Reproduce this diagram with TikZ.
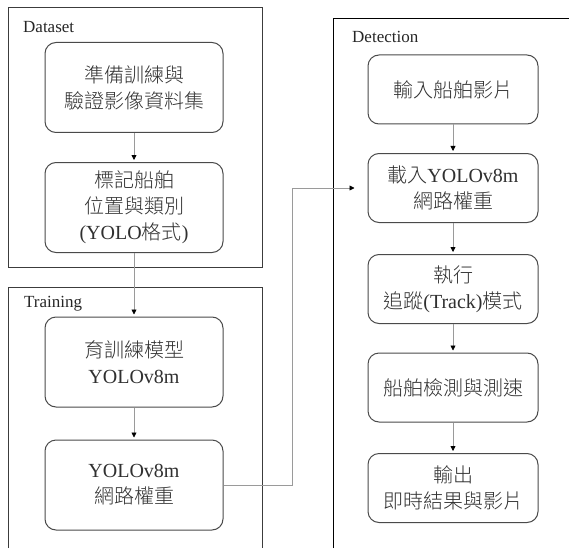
\documentclass[tikz,border=0pt]{standalone}
\usepackage{fontspec}
\setmainfont{Liberation Serif}
\newfontfamily\cjk{Noto Sans CJK TC}[UprightFont=* Light]
\usetikzlibrary{arrows.meta}
\definecolor{linegray}{HTML}{9A9A9A}
\definecolor{framegray}{HTML}{3C3C3C}
\definecolor{boxgray}{HTML}{4A4A4A}
\definecolor{txtgray}{HTML}{303030}
\tikzset{
  stepbox/.style={draw=boxgray, line width=1pt, rounded corners=11pt,
    align=center, text=txtgray, font=\fontsize{20}{26}\selectfont, inner sep=0pt},
  wide/.style={minimum width=178pt, minimum height=90pt},
  narrow/.style={minimum width=170pt, minimum height=69pt},
  frame/.style={draw=framegray, line width=1pt},
  grouplabel/.style={anchor=base west, inner sep=0pt, text=black!85, font=\fontsize{17}{20}\selectfont},
  conn/.style={draw=linegray, line width=0.8pt, -{Triangle[black,length=5pt,width=5pt]}, shorten >=2pt}
}
\begin{document}
\begin{tikzpicture}[x=1pt,y=-1pt]
\useasboundingbox (0,0) rectangle (569,548);

% group frames
\draw[frame] (8,8) rectangle (262,267);
\draw[frame] (8,548) -- (8,287) -- (262,287) -- (262,548);
\draw[frame, draw=black] (333,548) -- (333,19) -- (569,19);

\node[grouplabel] (gdata) at (23,33) {Dataset};
\node[grouplabel] (gtrain) at (24,307) {Training};
\node[grouplabel] (gdet) at (352,43) {Detection};

% dataset steps
\node[stepbox, wide] (d1) at (134,87.5) {{\cjk 準備訓練與}\\{\cjk 驗證影像資料集}};
\node[stepbox, wide] (d2) at (134,207.5) {{\cjk 標記船舶}\\{\cjk 位置與類別}\\(YOLO{\cjk 格式})};

% training steps
\node[stepbox, wide] (t1) at (134,362) {{\cjk 育訓練模型}\\YOLOv8m};
\node[stepbox, wide] (t2) at (134,485) {YOLOv8m\\{\cjk 網路權重}};

% detection steps
\node[stepbox, narrow] (e1) at (453,89.5) {{\cjk 輸入船舶影片}};
\node[stepbox, narrow] (e2) at (453,188) {{\cjk 載入}YOLOv8m\\{\cjk 網路權重}};
\node[stepbox, narrow] (e3) at (453,289) {{\cjk 執行}\\{\cjk 追蹤}(Track){\cjk 模式}};
\node[stepbox, narrow] (e4) at (453,387.5) {{\cjk 船舶檢測與測速}};
\node[stepbox, narrow] (e5) at (453,488) {{\cjk 輸出}\\{\cjk 即時結果與影片}};

% connectors
\draw[conn] (d1) -- (d2);
\draw[conn] (d2) -- (t1);
\draw[conn] (t1) -- (t2);
\draw[conn, shorten >=13pt] (t2.east) -- ++(69,0) |- (e2.west);
\draw[conn] (e1) -- (e2);
\draw[conn] (e2) -- (e3);
\draw[conn] (e3) -- (e4);
\draw[conn] (e4) -- (e5);
\end{tikzpicture}
\end{document}
